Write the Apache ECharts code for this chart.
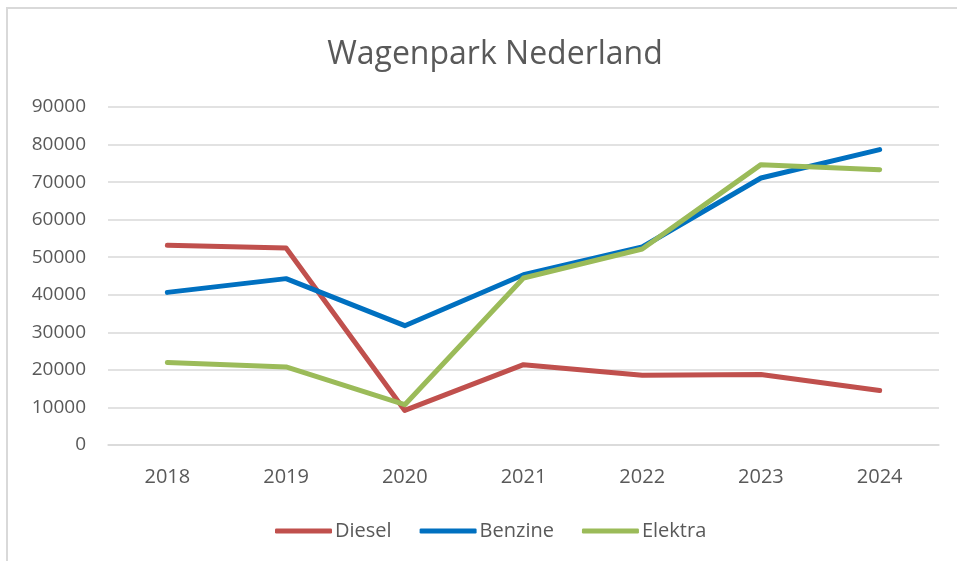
<!DOCTYPE html>
<html>
<head>
<meta charset="utf-8">
<script src="https://cdn.jsdelivr.net/npm/echarts@6/dist/echarts.min.js"></script>
<style>
  html, body { margin: 0; padding: 0; background: #fff; }
  #chart { width: 957px; height: 561px; }
</style>
</head>
<body>
<div id="chart"></div>
<script>
// Wagenpark Nederland - line chart
const years = ["2018", "2019", "2020", "2021", "2022", "2023", "2024"];
const diesel = [53160, 52470, 9210, 21380, 18560, 18750, 14490];
const benzine = [40640, 44300, 31770, 45350, 52720, 71100, 78640];
const elektra = [22000, 20780, 10730, 44470, 52190, 74650, 73320];

const textColor = "#595959";
const font = "Open Sans";

const makeLine = (name, data, color) => ({
    name,
    type: "line",
    data,
    symbol: "none",
    lineStyle: { color, width: 5, cap: "round", join: "round" },
    itemStyle: { color }
});

const chart = echarts.init(document.getElementById("chart"));
chart.setOption({
    backgroundColor: "#fff",
    animation: false,
    graphic: [{
        type: "rect",
        shape: { x: 7, y: 8, width: 1000, height: 600 },
        style: { fill: "none", stroke: "#d9d9d9", lineWidth: 2 }
    }],
    title: {
        text: "Wagenpark Nederland",
        left: 490,
        top: 34,
        textAlign: "center",
        textStyle: { color: textColor, fontFamily: font, fontSize: 32, fontWeight: "normal" }
    },
    grid: { left: 108, right: 18, top: 107, bottom: 116 },
    legend: {
        bottom: 15,
        left: 270,
        itemWidth: 57,
        itemHeight: 5,
        itemGap: 28,
        icon: "roundRect",
        textStyle: { color: textColor, fontFamily: font, fontSize: 20, padding: [0, 0, 0, -2] },
        data: ["Diesel", "Benzine", "Elektra"]
    },
    xAxis: {
        type: "category",
        data: years,
        boundaryGap: true,
        axisLine: { lineStyle: { color: "#d9d9d9", width: 1.5 } },
        axisTick: { show: false },
        axisLabel: { color: textColor, fontFamily: font, fontSize: 20, margin: 22 }
    },
    yAxis: {
        type: "value",
        min: 0,
        max: 90000,
        interval: 10000,
        axisLine: { show: false },
        axisTick: { show: false },
        axisLabel: { color: textColor, fontFamily: font, fontSize: 19, margin: 22, formatter: v => String(v) },
        splitLine: { lineStyle: { color: "#d9d9d9", width: 1.5 } }
    },
    series: [
        makeLine("Diesel", diesel, "#c0504d"),
        makeLine("Benzine", benzine, "#0070c0"),
        makeLine("Elektra", elektra, "#9bbb59")
    ]
});
</script>
</body>
</html>
